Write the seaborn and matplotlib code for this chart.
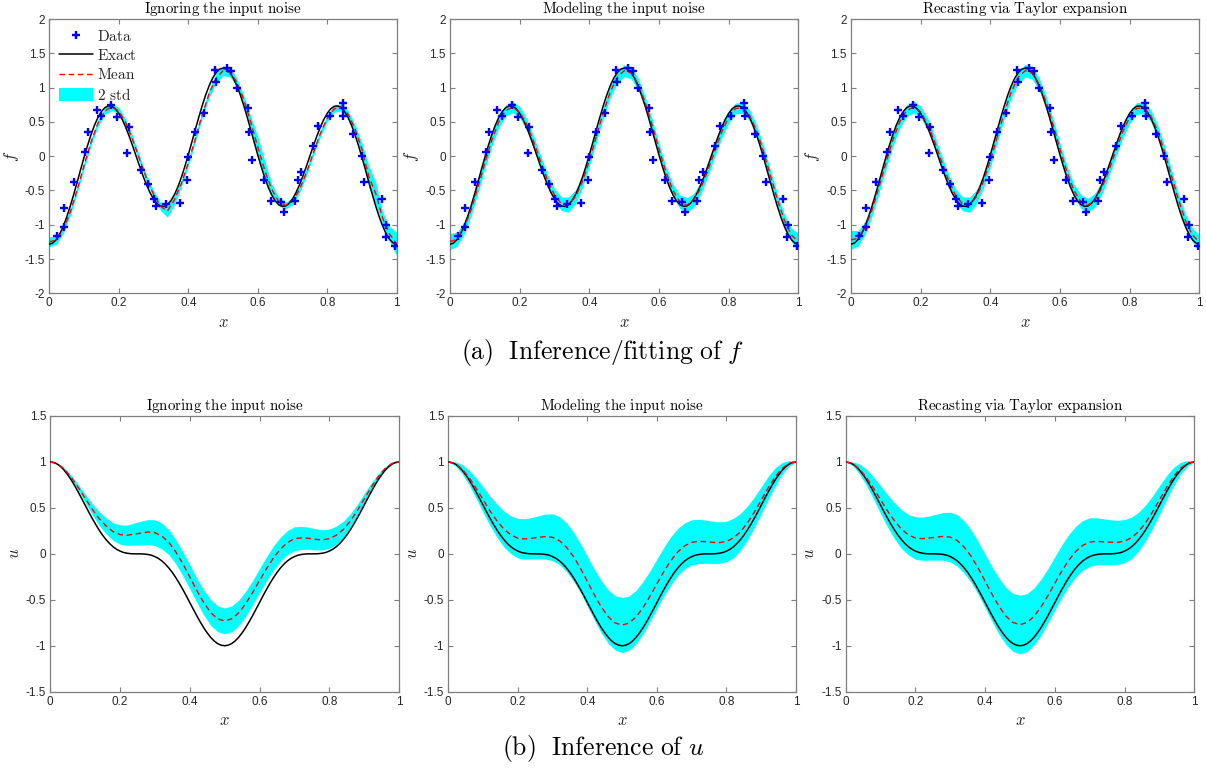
import numpy as np
import matplotlib
matplotlib.use("Agg")
import matplotlib.pyplot as plt
import seaborn as sns
from matplotlib.lines import Line2D
from matplotlib.patches import Patch

# ---------------------------------------------------------------- data
# grid for the posterior curves (step 0.02) and for the exact curves (step 0.01)
X_GRID = np.linspace(0.0, 1.0, 51)
X_FINE = np.linspace(0.0, 1.0, 101)

# noisy observations of the forcing term f
DATA_X = [0.023, 0.043, 0.043, 0.071, 0.103, 0.112, 0.136, 0.148, 0.178, 0.196,
          0.228, 0.224, 0.265, 0.284, 0.302, 0.306, 0.335, 0.376, 0.397, 0.400,
          0.419, 0.445, 0.478, 0.480, 0.511, 0.524, 0.540, 0.572, 0.574, 0.583,
          0.617, 0.638, 0.667, 0.675, 0.708, 0.715, 0.725, 0.760, 0.774, 0.808,
          0.844, 0.844, 0.846, 0.875, 0.900, 0.906, 0.957, 0.969, 0.968, 0.995]
DATA_Y = [-1.16, -0.75, -1.03, -0.38, 0.06, 0.35, 0.68, 0.58, 0.74, 0.57,
          0.42, 0.05, -0.20, -0.41, -0.62, -0.73, -0.70, -0.68, -0.35, -0.01,
          0.35, 0.63, 1.25, 1.08, 1.28, 1.24, 1.00, 0.70, 0.35, -0.06,
          -0.35, -0.66, -0.67, -0.82, -0.65, -0.35, -0.23, 0.15, 0.44, 0.59,
          0.77, 0.70, 0.58, 0.32, 0.00, -0.37, -0.63, -1.01, -1.18, -1.31]

# exact forcing f and exact solution u on X_FINE
F_EXACT = [-1.284, -1.267, -1.217, -1.136, -1.025, -0.890, -0.734, -0.563, -0.383, -0.199,
           -0.018, 0.154, 0.312, 0.450, 0.564, 0.650, 0.707, 0.733, 0.727, 0.690,
           0.624, 0.533, 0.420, 0.290, 0.148, 0.000, -0.148, -0.290, -0.420, -0.533,
           -0.624, -0.690, -0.727, -0.733, -0.707, -0.650, -0.564, -0.450, -0.312, -0.154,
           0.018, 0.199, 0.383, 0.563, 0.734, 0.890, 1.025, 1.136, 1.217, 1.267,
           1.284,
           1.267, 1.217, 1.136, 1.025, 0.890, 0.734, 0.563, 0.383, 0.199, 0.018,
           -0.154, -0.312, -0.450, -0.564, -0.650, -0.707, -0.733, -0.727, -0.690, -0.624,
           -0.533, -0.420, -0.290, -0.148, 0.000, 0.148, 0.290, 0.420, 0.533, 0.624,
           0.690, 0.727, 0.733, 0.707, 0.650, 0.564, 0.450, 0.312, 0.154, -0.018,
           -0.199, -0.383, -0.563, -0.734, -0.890, -1.025, -1.136, -1.217, -1.267, -1.284]
U_EXACT = [1.000, 0.994, 0.977, 0.948, 0.909, 0.860, 0.804, 0.741, 0.673, 0.602,
           0.530, 0.457, 0.387, 0.321, 0.259, 0.203, 0.154, 0.112, 0.077, 0.050,
           0.030, 0.015, 0.007, 0.002, 0.000, 0.000, -0.000, -0.002, -0.007, -0.015,
           -0.030, -0.050, -0.077, -0.112, -0.154, -0.203, -0.259, -0.321, -0.387, -0.457,
           -0.530, -0.602, -0.673, -0.741, -0.804, -0.860, -0.909, -0.948, -0.977, -0.994,
           -1.000,
           -0.994, -0.977, -0.948, -0.909, -0.860, -0.804, -0.741, -0.673, -0.602, -0.530,
           -0.457, -0.387, -0.321, -0.259, -0.203, -0.154, -0.112, -0.077, -0.050, -0.030,
           -0.015, -0.007, -0.002, -0.000, 0.000, 0.000, 0.002, 0.007, 0.015, 0.030,
           0.050, 0.077, 0.112, 0.154, 0.203, 0.259, 0.321, 0.387, 0.457, 0.530,
           0.602, 0.673, 0.741, 0.804, 0.860, 0.909, 0.948, 0.977, 0.994, 1.000]

# posterior mean of f and half-width of the 2-std band, per method
F_MEAN_IGNORE = [-1.25, -1.224, -1.077, -0.821, -0.493, -0.136, 0.204, 0.480, 0.658, 0.720,
                 0.658, 0.488, 0.240, -0.048, -0.327, -0.553, -0.73, -0.80, -0.64, -0.40,
                 -0.10, 0.25, 0.603, 0.912, 1.137, 1.245, 1.224, 1.077, 0.821, 0.493,
                 0.136, -0.204, -0.48, -0.66, -0.72, -0.66, -0.49, -0.24, 0.048, 0.327,
                 0.553, 0.69, 0.714, 0.614, 0.40, 0.10, -0.30, -0.55, -0.91, -1.14,
                 -1.28]
F_BAND_IGNORE = [0.075, 0.06, 0.05, 0.05, 0.05, 0.05, 0.05, 0.05, 0.05, 0.05,
                 0.05, 0.05, 0.05, 0.05, 0.05, 0.05, 0.06, 0.09, 0.07, 0.05,
                 0.05, 0.05, 0.05, 0.06, 0.07, 0.07, 0.07, 0.06, 0.06, 0.09,
                 0.15, 0.14, 0.08, 0.06, 0.05, 0.05, 0.05, 0.05, 0.05, 0.05,
                 0.05, 0.05, 0.05, 0.05, 0.06, 0.09, 0.16, 0.16, 0.09, 0.11,
                 0.17]

F_MEAN_MODEL = [-1.245, -1.212, -1.053, -0.790, -0.458, -0.102, 0.232, 0.500, 0.665, 0.716,
                0.643, 0.465, 0.212, -0.075, -0.350, -0.567, -0.695, -0.706, -0.595, -0.373,
                -0.067, 0.285, 0.634, 0.935, 1.149, 1.245, 1.212, 1.053, 0.790, 0.458,
                0.102, -0.232, -0.500, -0.665, -0.716, -0.643, -0.465, -0.212, 0.075, 0.350,
                0.567, 0.695, 0.706, 0.595, 0.373, 0.067, -0.285, -0.634, -0.935, -1.149,
                -1.245]
F_BAND_MODEL = [0.12, 0.10, 0.09, 0.085, 0.085, 0.085, 0.085, 0.085, 0.08, 0.08,
                0.08, 0.085, 0.085, 0.085, 0.085, 0.09, 0.10, 0.11, 0.10, 0.09,
                0.085, 0.085, 0.085, 0.085, 0.085, 0.085, 0.085, 0.085, 0.085, 0.085,
                0.085, 0.085, 0.09, 0.10, 0.11, 0.10, 0.09, 0.085, 0.085, 0.085,
                0.085, 0.08, 0.08, 0.08, 0.085, 0.085, 0.085, 0.085, 0.09, 0.10,
                0.12]

F_MEAN_TAYLOR = [-1.22, -1.20, -1.05, -0.790, -0.458, -0.102, 0.232, 0.500, 0.665, 0.716,
                 0.643, 0.465, 0.212, -0.075, -0.350, -0.567, -0.695, -0.710, -0.595, -0.373,
                 -0.067, 0.285, 0.634, 0.935, 1.149, 1.245, 1.212, 1.053, 0.790, 0.458,
                 0.102, -0.232, -0.500, -0.665, -0.716, -0.643, -0.465, -0.212, 0.075, 0.350,
                 0.567, 0.695, 0.706, 0.595, 0.373, 0.067, -0.285, -0.634, -0.935, -1.149,
                 -1.25]
F_BAND_TAYLOR = [0.14, 0.11, 0.095, 0.09, 0.09, 0.09, 0.09, 0.09, 0.085, 0.085,
                 0.085, 0.09, 0.09, 0.09, 0.09, 0.09, 0.10, 0.11, 0.10, 0.09,
                 0.09, 0.09, 0.09, 0.09, 0.09, 0.09, 0.09, 0.09, 0.09, 0.09,
                 0.09, 0.09, 0.09, 0.10, 0.10, 0.10, 0.09, 0.09, 0.09, 0.09,
                 0.09, 0.085, 0.085, 0.085, 0.09, 0.09, 0.09, 0.09, 0.09, 0.10,
                 0.10]

# posterior mean of u and half-width of the 2-std band, per method
U_MEAN_IGNORE = [1.000, 0.982, 0.924, 0.834, 0.723, 0.605, 0.487, 0.384, 0.304, 0.242,
                 0.210, 0.202, 0.215, 0.225, 0.238, 0.230, 0.193, 0.126, 0.021, -0.107,
                 -0.250, -0.398, -0.529, -0.639, -0.707, -0.730, -0.707, -0.644, -0.544, -0.423,
                 -0.290, -0.162, -0.044, 0.051, 0.123, 0.165, 0.173, 0.170, 0.158, 0.152,
                 0.165, 0.202, 0.264, 0.354, 0.467, 0.595, 0.723, 0.839, 0.929, 0.985,
                 1.000]
U_BAND_IGNORE = [0.0, 0.003, 0.01, 0.02, 0.03, 0.045, 0.06, 0.075, 0.085, 0.095,
                 0.105, 0.11, 0.12, 0.13, 0.135, 0.14, 0.14, 0.135, 0.13, 0.13,
                 0.13, 0.13, 0.135, 0.14, 0.14, 0.14, 0.14, 0.14, 0.135, 0.13,
                 0.13, 0.13, 0.13, 0.13, 0.13, 0.13, 0.125, 0.12, 0.115, 0.11,
                 0.105, 0.10, 0.09, 0.08, 0.07, 0.06, 0.045, 0.03, 0.02, 0.008,
                 0.0]

U_MEAN_MODEL = [1.000, 0.981, 0.921, 0.829, 0.713, 0.590, 0.467, 0.359, 0.269, 0.207,
                0.170, 0.162, 0.170, 0.180, 0.188, 0.180, 0.143, 0.071, -0.029, -0.157,
                -0.300, -0.445, -0.578, -0.684, -0.752, -0.775, -0.753, -0.687, -0.586, -0.461,
                -0.325, -0.192, -0.074, 0.021, 0.088, 0.125, 0.136, 0.133, 0.125, 0.122,
                0.135, 0.172, 0.239, 0.334, 0.452, 0.585, 0.718, 0.837, 0.929, 0.985,
                1.000]
U_BAND_MODEL = [0.0, 0.02, 0.05, 0.08, 0.11, 0.14, 0.16, 0.18, 0.195, 0.205,
                0.215, 0.22, 0.225, 0.235, 0.245, 0.255, 0.26, 0.265, 0.265, 0.265,
                0.27, 0.275, 0.285, 0.29, 0.295, 0.30, 0.295, 0.29, 0.285, 0.275,
                0.27, 0.265, 0.26, 0.255, 0.25, 0.245, 0.24, 0.235, 0.23, 0.225,
                0.22, 0.215, 0.20, 0.185, 0.165, 0.145, 0.125, 0.10, 0.065, 0.03,
                0.0]

U_MEAN_TAYLOR = [1.000, 0.981, 0.921, 0.829, 0.713, 0.590, 0.467, 0.359, 0.269, 0.207,
                 0.172, 0.165, 0.172, 0.182, 0.190, 0.182, 0.145, 0.073, -0.027, -0.155,
                 -0.297, -0.441, -0.573, -0.679, -0.747, -0.770, -0.748, -0.682, -0.581, -0.456,
                 -0.320, -0.187, -0.069, 0.026, 0.093, 0.128, 0.136, 0.131, 0.126, 0.125,
                 0.138, 0.175, 0.242, 0.336, 0.454, 0.586, 0.719, 0.838, 0.929, 0.985,
                 1.000]
U_BAND_TAYLOR = [0.0, 0.02, 0.055, 0.09, 0.12, 0.15, 0.175, 0.195, 0.21, 0.22,
                 0.23, 0.235, 0.24, 0.25, 0.26, 0.27, 0.28, 0.285, 0.285, 0.285,
                 0.29, 0.295, 0.305, 0.31, 0.315, 0.32, 0.315, 0.31, 0.305, 0.295,
                 0.29, 0.285, 0.28, 0.275, 0.27, 0.265, 0.255, 0.25, 0.245, 0.24,
                 0.235, 0.225, 0.21, 0.195, 0.175, 0.155, 0.13, 0.10, 0.065, 0.03,
                 0.0]

TITLES = [r"$\mathrm{Ignoring\ the\ input\ noise}$",
          r"$\mathrm{Modeling\ the\ input\ noise}$",
          r"$\mathrm{Recasting\ via\ Taylor\ expansion}$"]

X_TICKS = [0.0, 0.2, 0.4, 0.6, 0.8, 1.0]
X_TICK_LABELS = ["0", "0.2", "0.4", "0.6", "0.8", "1"]
F_TICKS = [-2.0, -1.5, -1.0, -0.5, 0.0, 0.5, 1.0, 1.5, 2.0]
F_TICK_LABELS = ["-2", "-1.5", "-1", "-0.5", "0", "0.5", "1", "1.5", "2"]
U_TICKS = [-1.5, -1.0, -0.5, 0.0, 0.5, 1.0, 1.5]
U_TICK_LABELS = ["-1.5", "-1", "-0.5", "0", "0.5", "1", "1.5"]

LEGEND_LABELS = [r"$\mathrm{Data}$", r"$\mathrm{Exact}$",
                 r"$\mathrm{Mean}$", r"$\mathrm{2\ std}$"]
CAPTION_F = r"$\mathrm{(a)\ \ Inference/fitting\ of}\ f$"
CAPTION_U = r"$\mathrm{(b)\ \ Inference\ of}\ u$"

# ---------------------------------------------------------------- style
sns.set_theme(style="white")
plt.rcParams["font.family"] = ["Liberation Sans", "DejaVu Sans"]
plt.rcParams["mathtext.fontset"] = "cm"

BAND_COLOR = "#00ffff"
DATA_COLOR = "#0000ff"
SPINE_COLOR = "#7f7f7f"
TEXT_COLOR = "#262626"
DASH = (0, (4, 2.6))

W, H = 1206, 769
fig = plt.figure(figsize=(W / 100, H / 100), dpi=100)


def px_axes(x0, x1, y_top, y_bot):
    return fig.add_axes([x0 / W, 1 - y_bot / H, (x1 - x0) / W, (y_bot - y_top) / H])


def style_axes(ax, ylim, yticks, ylabels, ylabel, title):
    ax.set_xlim(0, 1)
    ax.set_ylim(*ylim)
    ax.set_xticks(X_TICKS)
    ax.set_xticklabels(X_TICK_LABELS)
    ax.set_yticks(yticks)
    ax.set_yticklabels(ylabels)
    for s in ax.spines.values():
        s.set_visible(True)
        s.set_color(SPINE_COLOR)
        s.set_linewidth(0.9)
    ax.tick_params(direction="in", length=3.5, width=0.8, color=SPINE_COLOR,
                   labelcolor=TEXT_COLOR, labelsize=8.5, top=True, right=True,
                   bottom=True, left=True, pad=3)
    ax.set_xlabel(r"$x$", fontsize=12, color=TEXT_COLOR, labelpad=4)
    ax.set_ylabel(ylabel, fontsize=12, color=TEXT_COLOR, labelpad=3)
    ax.set_title(title, fontsize=10.8, color="black", pad=4)


def draw_panel(ax, mean, band, exact, with_data):
    mean = np.asarray(mean)
    band = np.asarray(band)
    ax.fill_between(X_GRID, mean - band, mean + band, color=BAND_COLOR,
                    linewidth=0, zorder=1)
    sns.lineplot(x=X_FINE, y=exact, color="black", linewidth=1.1, ax=ax,
                 zorder=3, sort=False)
    sns.lineplot(x=X_GRID, y=mean, color="red", linewidth=1.0, linestyle=DASH,
                 ax=ax, zorder=4, sort=False)
    if with_data:
        sns.scatterplot(x=DATA_X, y=DATA_Y, marker="+", color=DATA_COLOR, s=32,
                        linewidth=1.7, ax=ax, zorder=5, legend=False)


top_cols = [(49.3, 396.7), (450.0, 798.3), (851.0, 1199.3)]
bot_cols = [(50.3, 399.0), (448.3, 796.0), (845.7, 1194.3)]

f_means = [F_MEAN_IGNORE, F_MEAN_MODEL, F_MEAN_TAYLOR]
f_bands = [F_BAND_IGNORE, F_BAND_MODEL, F_BAND_TAYLOR]
u_means = [U_MEAN_IGNORE, U_MEAN_MODEL, U_MEAN_TAYLOR]
u_bands = [U_BAND_IGNORE, U_BAND_MODEL, U_BAND_TAYLOR]

for i in range(3):
    ax = px_axes(top_cols[i][0], top_cols[i][1], 19.0, 293.3)
    draw_panel(ax, f_means[i], f_bands[i], F_EXACT, True)
    style_axes(ax, (-2, 2), F_TICKS, F_TICK_LABELS, r"$f$", TITLES[i])
    if i == 0:
        handles = [Line2D([], [], marker="+", color=DATA_COLOR, linestyle="none",
                          markersize=6, markeredgewidth=1.7),
                   Line2D([], [], color="black", linewidth=1.1),
                   Line2D([], [], color="red", linewidth=1.0, linestyle=DASH),
                   Patch(facecolor=BAND_COLOR, edgecolor="none")]
        ax.legend(handles, LEGEND_LABELS, loc="upper left", frameon=False,
                  fontsize=11, handlelength=2.2, handletextpad=0.25,
                  labelspacing=0.28, handleheight=0.95, borderaxespad=0.2,
                  borderpad=0.45)

    axb = px_axes(bot_cols[i][0], bot_cols[i][1], 416.0, 691.7)
    draw_panel(axb, u_means[i], u_bands[i], U_EXACT, False)
    style_axes(axb, (-1.5, 1.5), U_TICKS, U_TICK_LABELS, r"$u$", TITLES[i])

fig.text(0.5, 1 - 352 / H, CAPTION_F, ha="center", va="center", fontsize=18.5,
         color="black")
fig.text(0.5, 1 - 749 / H, CAPTION_U, ha="center", va="center", fontsize=18.5,
         color="black")

fig.savefig("out.png", dpi=100)
